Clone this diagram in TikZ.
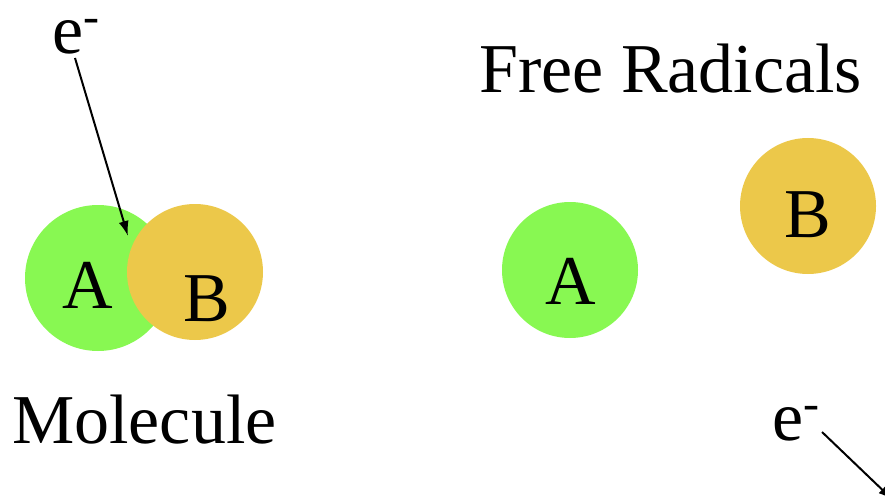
\documentclass[tikz,border=0pt]{standalone}
\usepackage{fontspec}
\setmainfont{Liberation Serif}
\usetikzlibrary{arrows.meta}
\definecolor{atomgreen}{RGB}{136,248,82}
\definecolor{atomgold}{RGB}{236,200,74}
\newcommand{\electron}{e\raisebox{21pt}[0pt][0pt]{\fontsize{48}{50}\selectfont -}}

\begin{document}
\begin{tikzpicture}[x=1pt, y=-1pt, every node/.style={font=\fontsize{70}{80}\selectfont}]
  % Styles
  \tikzset{
    atom/.style={circle, inner sep=0pt, minimum size=136pt},
    letter/.style={anchor=base, inner sep=0pt},
    caption/.style={anchor=base west, inner sep=0pt},
    arrow/.style={line width=2pt, -{Latex[length=15pt,width=10pt]}}
  }
  \useasboundingbox (0,0) rectangle (885,497);
  \clip (0,0) rectangle (885,497);

  % Molecule (left)
  \node[atom, fill=atomgreen, minimum size=146pt] (mola) at (98,278) {};
  \node[atom, fill=atomgold] (molb) at (195,272) {};
  \node[letter] (molatxt) at (88,308) {A};
  \node[letter] (molbtxt) at (207,321) {B};
  \node[caption] (molecule) at (12,443) {Molecule};

  % Free radicals (right)
  \node[atom, fill=atomgreen] (rada) at (570,270) {};
  \node[atom, fill=atomgold] (radb) at (808,206) {};
  \node[letter] (radatxt) at (571,304) {A};
  \node[letter] (radbtxt) at (808,237) {B};
  \node[caption] (radicals) at (479,93) {Free Radicals};

  % Electrons
  \node[caption] (ein) at (52,54) {\electron};
  \node[caption] (eout) at (772,440) {\electron};
  \coordinate (eintail) at (75,58);
  \coordinate (eintip) at (128,236);
  \coordinate (eouttail) at (822,432);
  \coordinate (eouttip) at (893,500);

  \draw[arrow] (eintail) -- (eintip);
  \draw[arrow] (eouttail) -- (eouttip);
\end{tikzpicture}
\end{document}
